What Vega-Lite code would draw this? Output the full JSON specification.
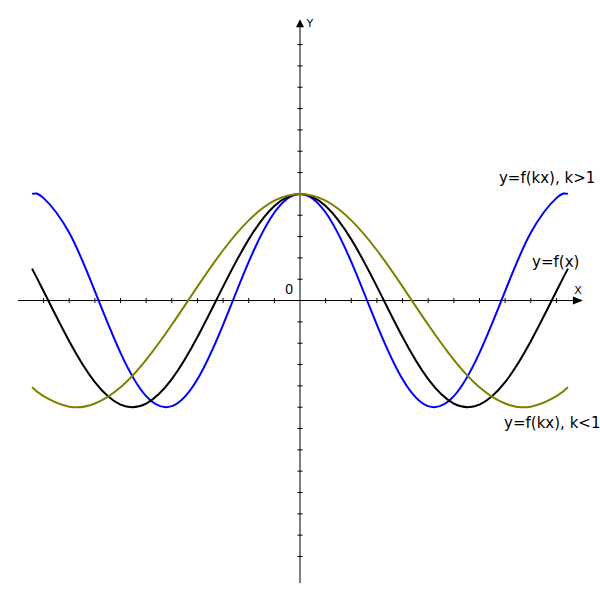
{
  "$schema": "https://vega.github.io/schema/vega-lite/v6.json",
  "width": 600,
  "height": 600,
  "autosize": {"type": "none"},
  "padding": 0,
  "background": "white",
  "config": {"view": {"stroke": null}},
  "datasets": {
    "curves": [
      {"s": "a_blue", "x": -10.45, "y": 4.9996},
      {"s": "a_blue", "x": -10, "y": 4.8009},
      {"s": "a_blue", "x": -9, "y": 3.1734},
      {"s": "a_blue", "x": -8, "y": 0.4375},
      {"s": "a_blue", "x": -7, "y": -2.4513},
      {"s": "a_blue", "x": -6, "y": -4.4838},
      {"s": "a_blue", "x": -5, "y": -4.95},
      {"s": "a_blue", "x": -4, "y": -3.687},
      {"s": "a_blue", "x": -3, "y": -1.136},
      {"s": "a_blue", "x": -2, "y": 1.8118},
      {"s": "a_blue", "x": -1, "y": 4.1267},
      {"s": "a_blue", "x": 0, "y": 5},
      {"s": "a_blue", "x": 1, "y": 4.1267},
      {"s": "a_blue", "x": 2, "y": 1.8118},
      {"s": "a_blue", "x": 3, "y": -1.136},
      {"s": "a_blue", "x": 4, "y": -3.687},
      {"s": "a_blue", "x": 5, "y": -4.95},
      {"s": "a_blue", "x": 6, "y": -4.4838},
      {"s": "a_blue", "x": 7, "y": -2.4513},
      {"s": "a_blue", "x": 8, "y": 0.4375},
      {"s": "a_blue", "x": 9, "y": 3.1734},
      {"s": "a_blue", "x": 10, "y": 4.8009},
      {"s": "a_blue", "x": 10.45, "y": 4.9996},
      {"s": "b_black", "x": -10.45, "y": 1.495},
      {"s": "b_black", "x": -10, "y": 0.4374},
      {"s": "b_black", "x": -9, "y": -1.912},
      {"s": "b_black", "x": -8, "y": -3.829},
      {"s": "b_black", "x": -7, "y": -4.881},
      {"s": "b_black", "x": -6, "y": -4.83},
      {"s": "b_black", "x": -5, "y": -3.687},
      {"s": "b_black", "x": -4, "y": -1.711},
      {"s": "b_black", "x": -3, "y": 0.652},
      {"s": "b_black", "x": -2, "y": 2.8676},
      {"s": "b_black", "x": -1, "y": 4.4349},
      {"s": "b_black", "x": 0, "y": 5},
      {"s": "b_black", "x": 1, "y": 4.4349},
      {"s": "b_black", "x": 2, "y": 2.8676},
      {"s": "b_black", "x": 3, "y": 0.652},
      {"s": "b_black", "x": 4, "y": -1.711},
      {"s": "b_black", "x": 5, "y": -3.687},
      {"s": "b_black", "x": 6, "y": -4.83},
      {"s": "b_black", "x": 7, "y": -4.881},
      {"s": "b_black", "x": 8, "y": -3.829},
      {"s": "b_black", "x": 9, "y": -1.912},
      {"s": "b_black", "x": 10, "y": 0.4374},
      {"s": "b_black", "x": 10.45, "y": 1.495},
      {"s": "c_olive", "x": -10.45, "y": -4.0685},
      {"s": "c_olive", "x": -10, "y": -4.4838},
      {"s": "c_olive", "x": -9, "y": -4.9758},
      {"s": "c_olive", "x": -8, "y": -4.8283},
      {"s": "c_olive", "x": -7, "y": -4.065},
      {"s": "c_olive", "x": -6, "y": -2.777},
      {"s": "c_olive", "x": -5, "y": -1.136},
      {"s": "c_olive", "x": -4, "y": 0.6521},
      {"s": "c_olive", "x": -3, "y": 2.3566},
      {"s": "c_olive", "x": -2, "y": 3.759},
      {"s": "c_olive", "x": -1, "y": 4.6795},
      {"s": "c_olive", "x": 0, "y": 5},
      {"s": "c_olive", "x": 1, "y": 4.6795},
      {"s": "c_olive", "x": 2, "y": 3.759},
      {"s": "c_olive", "x": 3, "y": 2.3566},
      {"s": "c_olive", "x": 4, "y": 0.6521},
      {"s": "c_olive", "x": 5, "y": -1.136},
      {"s": "c_olive", "x": 6, "y": -2.777},
      {"s": "c_olive", "x": 7, "y": -4.065},
      {"s": "c_olive", "x": 8, "y": -4.8283},
      {"s": "c_olive", "x": 9, "y": -4.9758},
      {"s": "c_olive", "x": 10, "y": -4.4838},
      {"s": "c_olive", "x": 10.45, "y": -4.0685}
    ],
    "xticks": [
      {"t": -10}, {"t": -9}, {"t": -8}, {"t": -7}, {"t": -6}, {"t": -5}, {"t": -4}, {"t": -3}, {"t": -2}, {"t": -1},
      {"t": 1}, {"t": 2}, {"t": 3}, {"t": 4}, {"t": 5}, {"t": 6}, {"t": 7}, {"t": 8}, {"t": 9}, {"t": 10}
    ],
    "yticks": [
      {"t": -12}, {"t": -11}, {"t": -10}, {"t": -9}, {"t": -8}, {"t": -7}, {"t": -6}, {"t": -5}, {"t": -4}, {"t": -3}, {"t": -2}, {"t": -1},
      {"t": 1}, {"t": 2}, {"t": 3}, {"t": 4}, {"t": 5}, {"t": 6}, {"t": 7}, {"t": 8}, {"t": 9}, {"t": 10}, {"t": 11}, {"t": 12}
    ],
    "labels": [
      {"label": "y=f(kx), k>1", "x": 7.76, "y": 5.52},
      {"label": "y=f(x)", "x": 9.05, "y": 1.57},
      {"label": "y=f(kx), k<1", "x": 7.96, "y": -5.98}
    ]
  },
  "layer": [
    {
      "data": {"values": [{}]},
      "mark": {"type": "rule", "color": "black", "strokeWidth": 1},
      "encoding": {
        "x": {"datum": -11, "type": "quantitative", "scale": {"domain": [-11.7, 11.7]}, "axis": null},
        "x2": {"datum": 10.8},
        "y": {"datum": 0, "type": "quantitative", "scale": {"domain": [-14.04, 14.09]}, "axis": null}
      }
    },
    {
      "data": {"values": [{}]},
      "mark": {"type": "rule", "color": "black", "strokeWidth": 1},
      "encoding": {
        "x": {"datum": 0, "type": "quantitative", "scale": {"domain": [-11.7, 11.7]}, "axis": null},
        "y": {"datum": -13.25, "type": "quantitative", "scale": {"domain": [-14.04, 14.09]}, "axis": null},
        "y2": {"datum": 12.9}
      }
    },
    {
      "data": {"name": "xticks"},
      "mark": {"type": "rule", "color": "black", "strokeWidth": 1},
      "encoding": {
        "x": {"field": "t", "type": "quantitative", "scale": {"domain": [-11.7, 11.7]}, "axis": null},
        "y": {"datum": -0.12, "type": "quantitative", "scale": {"domain": [-14.04, 14.09]}, "axis": null},
        "y2": {"datum": 0.12}
      }
    },
    {
      "data": {"name": "yticks"},
      "mark": {"type": "rule", "color": "black", "strokeWidth": 1},
      "encoding": {
        "y": {"field": "t", "type": "quantitative", "scale": {"domain": [-14.04, 14.09]}, "axis": null},
        "x": {"datum": -0.1, "type": "quantitative", "scale": {"domain": [-11.7, 11.7]}, "axis": null},
        "x2": {"datum": 0.1}
      }
    },
    {
      "data": {"values": [{}]},
      "mark": {"type": "point", "shape": "M-1,-0.8L1,0L-1,0.8Z", "filled": true, "color": "black", "opacity": 1, "size": 100, "strokeWidth": 0},
      "encoding": {
        "x": {"datum": 10.84, "type": "quantitative", "scale": {"domain": [-11.7, 11.7]}, "axis": null},
        "y": {"datum": 0, "type": "quantitative", "scale": {"domain": [-14.04, 14.09]}, "axis": null}
      }
    },
    {
      "data": {"values": [{}]},
      "mark": {"type": "point", "shape": "M0,-1L1,1L-1,1Z", "filled": true, "color": "black", "opacity": 1, "size": 64, "strokeWidth": 0},
      "encoding": {
        "x": {"datum": 0, "type": "quantitative", "scale": {"domain": [-11.7, 11.7]}, "axis": null},
        "y": {"datum": 13.0, "type": "quantitative", "scale": {"domain": [-14.04, 14.09]}, "axis": null}
      }
    },
    {
      "data": {"name": "curves"},
      "mark": {"type": "line", "strokeWidth": 2, "interpolate": "natural"},
      "encoding": {
        "x": {"field": "x", "type": "quantitative", "scale": {"domain": [-11.7, 11.7]}, "axis": null},
        "y": {"field": "y", "type": "quantitative", "scale": {"domain": [-14.04, 14.09]}, "axis": null},
        "color": {"field": "s", "type": "nominal", "scale": {"domain": ["a_blue", "b_black", "c_olive"], "range": ["#0000FF", "#000000", "#808000"]}, "legend": null}
      }
    },
    {
      "data": {"name": "labels"},
      "mark": {"type": "text", "align": "left", "baseline": "alphabetic", "font": "DejaVu Sans", "fontSize": 15, "color": "black"},
      "encoding": {
        "x": {"field": "x", "type": "quantitative", "scale": {"domain": [-11.7, 11.7]}, "axis": null},
        "y": {"field": "y", "type": "quantitative", "scale": {"domain": [-14.04, 14.09]}, "axis": null},
        "text": {"field": "label"}
      }
    },
    {
      "data": {"values": [{"label": "0", "x": -0.27, "y": 0.3}]},
      "mark": {"type": "text", "align": "right", "baseline": "alphabetic", "font": "Liberation Sans", "fontSize": 14, "color": "black"},
      "encoding": {
        "x": {"field": "x", "type": "quantitative", "scale": {"domain": [-11.7, 11.7]}, "axis": null},
        "y": {"field": "y", "type": "quantitative", "scale": {"domain": [-14.04, 14.09]}, "axis": null},
        "text": {"field": "label"}
      }
    },
    {
      "data": {"values": [{"label": "X", "x": 10.84, "y": 0.3, "a": "center"}, {"label": "Y", "x": 0.25, "y": 12.81, "a": "left"}]},
      "mark": {"type": "text", "baseline": "alphabetic", "font": "DejaVu Sans", "fontSize": 11, "color": "black", "align": {"expr": "datum.a"}},
      "encoding": {
        "x": {"field": "x", "type": "quantitative", "scale": {"domain": [-11.7, 11.7]}, "axis": null},
        "y": {"field": "y", "type": "quantitative", "scale": {"domain": [-14.04, 14.09]}, "axis": null},
        "text": {"field": "label"}
      }
    }
  ]
}
